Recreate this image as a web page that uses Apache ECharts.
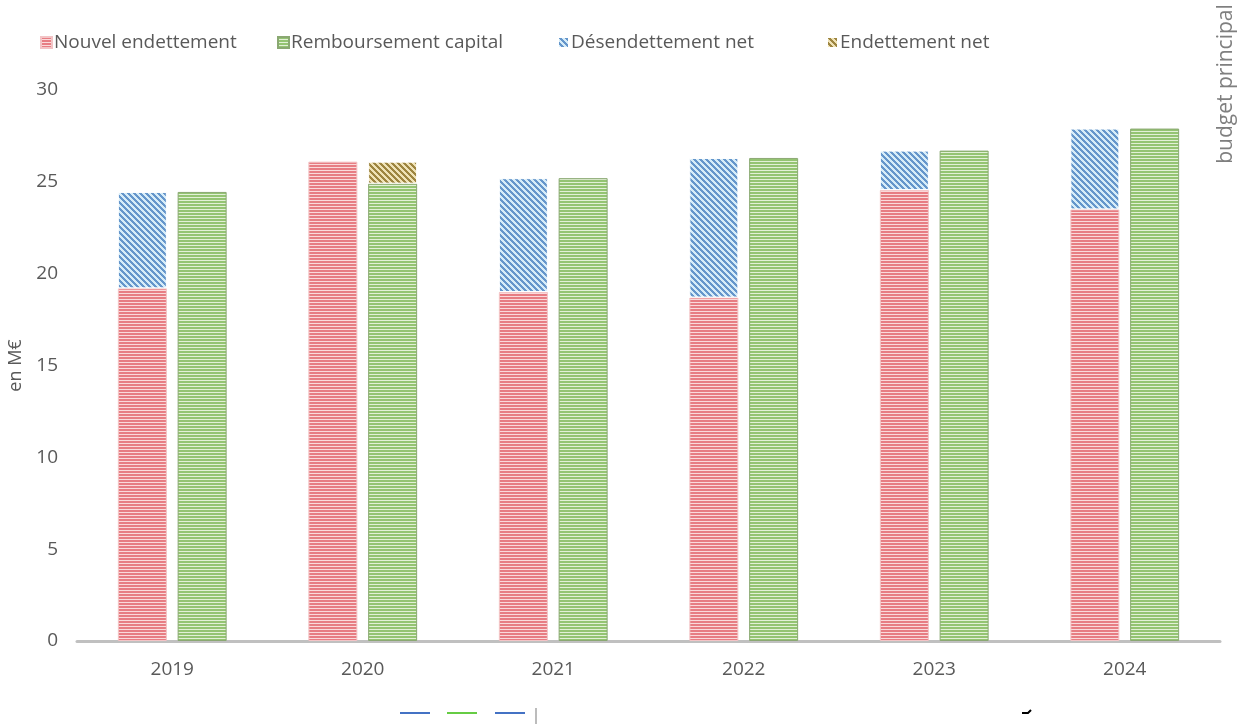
<!DOCTYPE html>
<html>
<head>
<meta charset="utf-8">
<script src="https://cdn.jsdelivr.net/npm/echarts@6/dist/echarts.min.js"></script>
<style>
  html, body { margin: 0; padding: 0; background: #ffffff; }
  #chart { width: 1239px; height: 724px; }
</style>
</head>
<body>
<div id="chart"></div>
<script>
// Dette du budget principal, en M€
const categories = ['2019', '2020', '2021', '2022', '2023', '2024'];
const nouvelEndettement = [19.2, 26.1, 19.0, 18.7, 24.55, 23.5];
const desendettementNet = [5.25, null, 6.2, 7.6, 2.15, 4.4];
const remboursementCapital = [24.45, 24.9, 25.2, 26.3, 26.7, 27.9];
const endettementNet = [null, 1.2, null, null, null, null];
const yTicks = { min: 0, max: 30, interval: 5 };

// Small hatch tiles used as bar fills
function horizontalHatch(dark, light) {
  const c = document.createElement('canvas');
  c.width = 4; c.height = 3;
  const g = c.getContext('2d');
  g.fillStyle = dark; g.fillRect(0, 0, 4, 2);
  g.fillStyle = light; g.fillRect(0, 2, 4, 1);
  return { image: c, repeat: 'repeat' };
}
function diagonalHatch(dark, light) {
  const n = 6;
  const c = document.createElement('canvas');
  c.width = n; c.height = n;
  const g = c.getContext('2d');
  for (let y = 0; y < n; y++) {
    for (let x = 0; x < n; x++) {
      g.fillStyle = (((x - y) % n + n) % n) < 3 ? dark : light;
      g.fillRect(x, y, 1, 1);
    }
  }
  return { image: c, repeat: 'repeat' };
}

const redFill = horizontalHatch('#e77d83', '#fadadb');
const greenFill = horizontalHatch('#94c472', '#e2f0d6');
const blueFill = diagonalHatch('#6596cb', '#d6ecf8');
const goldFill = diagonalHatch('#9d8540', '#efe2b6');

const textColor = '#595959';
const fontFamily = '"Open Sans", "Noto Sans", sans-serif';

function legendAt(name, left) {
  return {
    data: [name], left: left, top: 28,
    icon: 'rect', itemWidth: 11, itemHeight: 11, itemGap: 0,
    textStyle: { color: textColor, fontSize: 19, fontFamily: fontFamily, padding: [0, 0, 0, -3] },
    selectedMode: false
  };
}

const chart = echarts.init(document.getElementById('chart'), null, { renderer: 'canvas' });
chart.setOption({
  animation: false,
  backgroundColor: '#ffffff',
  textStyle: { fontFamily: fontFamily },
  legend: [
    legendAt('Nouvel endettement', 35),
    legendAt('Remboursement capital', 272),
    legendAt('Désendettement net', 552),
    legendAt('Endettement net', 821)
  ],
  grid: { left: 77, right: 19, top: 90, bottom: 83, containLabel: false, outerBoundsMode: 'none' },
  xAxis: {
    type: 'category',
    data: categories,
    axisTick: { show: false },
    axisLine: { lineStyle: { color: '#c0c0c0', width: 3 } },
    axisLabel: { color: textColor, fontSize: 19, margin: 19, fontFamily: fontFamily }
  },
  yAxis: {
    type: 'value',
    min: yTicks.min, max: yTicks.max, interval: yTicks.interval,
    name: 'en M€',
    nameLocation: 'middle',
    nameRotate: 90,
    nameGap: 50,
    nameTextStyle: { color: textColor, fontSize: 18, fontFamily: fontFamily },
    axisLine: { show: false },
    axisTick: { show: false },
    splitLine: { show: false },
    axisLabel: { color: textColor, fontSize: 19, margin: 19, fontFamily: fontFamily }
  },
  series: [
    {
      name: 'Nouvel endettement', type: 'bar', stack: 'emprunts',
      data: nouvelEndettement, barWidth: 49, barGap: '22%',
      itemStyle: { color: redFill, borderColor: '#f3c4c6', borderWidth: 1 }
    },
    {
      name: 'Remboursement capital', type: 'bar', stack: 'remboursements',
      data: remboursementCapital, barWidth: 49, barGap: '22%',
      itemStyle: { color: greenFill, borderColor: '#8aa872', borderWidth: 1 }
    },
    {
      name: 'Désendettement net', type: 'bar', stack: 'emprunts',
      data: desendettementNet, barWidth: 49, barGap: '22%',
      itemStyle: { color: blueFill, borderColor: '#ffffff', borderWidth: 1 }
    },
    {
      name: 'Endettement net', type: 'bar', stack: 'remboursements',
      data: endettementNet, barWidth: 49, barGap: '22%',
      itemStyle: { color: goldFill, borderColor: '#ffffff', borderWidth: 1 }
    }
  ],
  graphic: [
    {
      type: 'text', x: 1226, y: 84, rotation: Math.PI / 2,
      style: {
        text: 'budget principal', fill: '#7f7f7f', fontSize: 21, fontFamily: fontFamily,
        textAlign: 'center', textVerticalAlign: 'middle'
      }
    },
    { type: 'line', shape: { x1: 400, y1: 713, x2: 430, y2: 713 }, style: { stroke: '#4472c4', lineWidth: 2 } },
    { type: 'line', shape: { x1: 447, y1: 713, x2: 477, y2: 713 }, style: { stroke: '#66cc44', lineWidth: 2 } },
    { type: 'line', shape: { x1: 495, y1: 713, x2: 525, y2: 713 }, style: { stroke: '#4472c4', lineWidth: 2 } },
    { type: 'line', shape: { x1: 536, y1: 708, x2: 536, y2: 724 }, style: { stroke: '#a6a6a6', lineWidth: 1.5 } },
    { type: 'polyline', shape: { points: [[1022, 713], [1028, 713], [1031, 710]] }, style: { stroke: '#000000', lineWidth: 2, fill: null } }
  ]
});
</script>
</body>
</html>
